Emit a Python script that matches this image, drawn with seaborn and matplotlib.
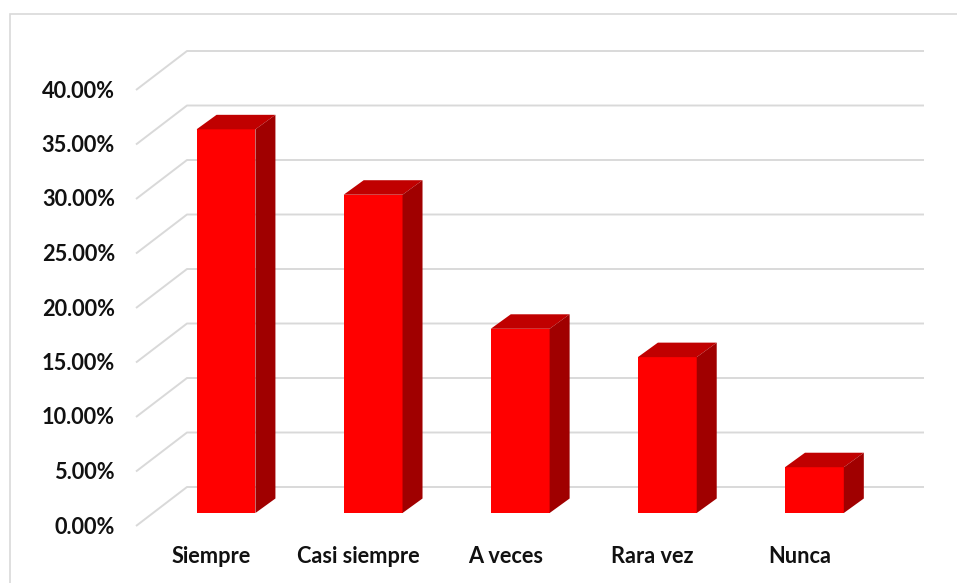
import matplotlib
matplotlib.use("Agg")
import matplotlib.pyplot as plt
from matplotlib.patches import Polygon, Rectangle
import seaborn as sns
import pandas as pd

# Survey answers (share of respondents, %)
categories = ["Siempre", "Casi siempre", "A veces", "Rara vez", "Nunca"]
values = [35.2, 29.2, 16.9, 14.3, 4.2]
y_ticks = [0, 5, 10, 15, 20, 25, 30, 35, 40]
y_tick_labels = [f"{v:.2f}%" for v in y_ticks]

FRONT = "#FF0000"
TOP = "#C00000"
SIDE = "#A00000"
GRID = "#D9D9D9"
TEXT = "#111111"

W, H, DPI = 957, 583, 100

# pixel scale of the data space (one category step, one percent point)
PX_CAT = 147.1
PX_PCT = 10.9
X0_PX = 226.0          # pixel column of the first category centre
Y0_PX = 70.0           # pixel row (from bottom) of the bars' zero level


def dx(px):
    return px / PX_CAT


def dy(px):
    return px / PX_PCT


sns.set_theme(style="white")
plt.rcParams["font.family"] = ["Lato", "DejaVu Sans"]

fig = plt.figure(figsize=(W / DPI, H / DPI), dpi=DPI)
ax = fig.add_axes([0, 0, 1, 1])

df = pd.DataFrame({"cat": categories, "val": values})
sns.barplot(data=df, x="cat", y="val", width=0.40, color=FRONT,
            saturation=1, linewidth=0, ax=ax, zorder=3)

ax.set_xlim(-X0_PX / PX_CAT, (W - X0_PX) / PX_CAT)
ax.set_ylim(-Y0_PX / PX_PCT, (H - Y0_PX) / PX_PCT)
ax.set_axis_off()

# wall geometry (offsets from the bars' front plane)
back_x = dx(187 - X0_PX)
front_x = dx(136 - X0_PX)
end_x = dx(924 - X0_PX)
back_up = dy(26)
front_down = dy(13)

for v in y_ticks:
    ax.plot([front_x, back_x, end_x],
            [v - front_down, v + back_up, v + back_up],
            color=GRID, lw=1.4, solid_capstyle="butt", zorder=1)

# y tick labels on the front edge of the side wall
for v, lab in zip(y_ticks, y_tick_labels):
    ax.text(dx(115 - X0_PX), v - front_down - dy(7.5), lab,
            ha="right", va="baseline", fontsize=15.7, fontweight="bold",
            color=TEXT)

# depth faces of each bar
bdx, bdy = dx(20), dy(14.5)
for p in ax.patches[:len(values)]:
    x0 = p.get_x()
    x1 = x0 + p.get_width()
    h = p.get_height()
    top = Polygon([(x0, h), (x1, h), (x1 + bdx, h + bdy), (x0 + bdx, h + bdy)],
                  closed=True, facecolor=TOP, edgecolor="none", zorder=3)
    side = Polygon([(x1, 0), (x1, h), (x1 + bdx, h + bdy), (x1 + bdx, bdy)],
                   closed=True, facecolor=SIDE, edgecolor="none", zorder=3)
    ax.add_patch(top)
    ax.add_patch(side)

# category labels under the floor
for i, lab in enumerate(categories):
    ax.text(i - dx(15), -dy(50), lab, ha="center", va="baseline",
            fontsize=15.7, fontweight="bold", color=TEXT)

# chart frame
fig.patches.append(Rectangle((9.5 / W, -0.05), 1.2, (H - 14) / H + 0.05,
                             transform=fig.transFigure, fill=False,
                             edgecolor=GRID, lw=1.2, zorder=0))

fig.savefig("out.png", dpi=DPI, facecolor="white")
